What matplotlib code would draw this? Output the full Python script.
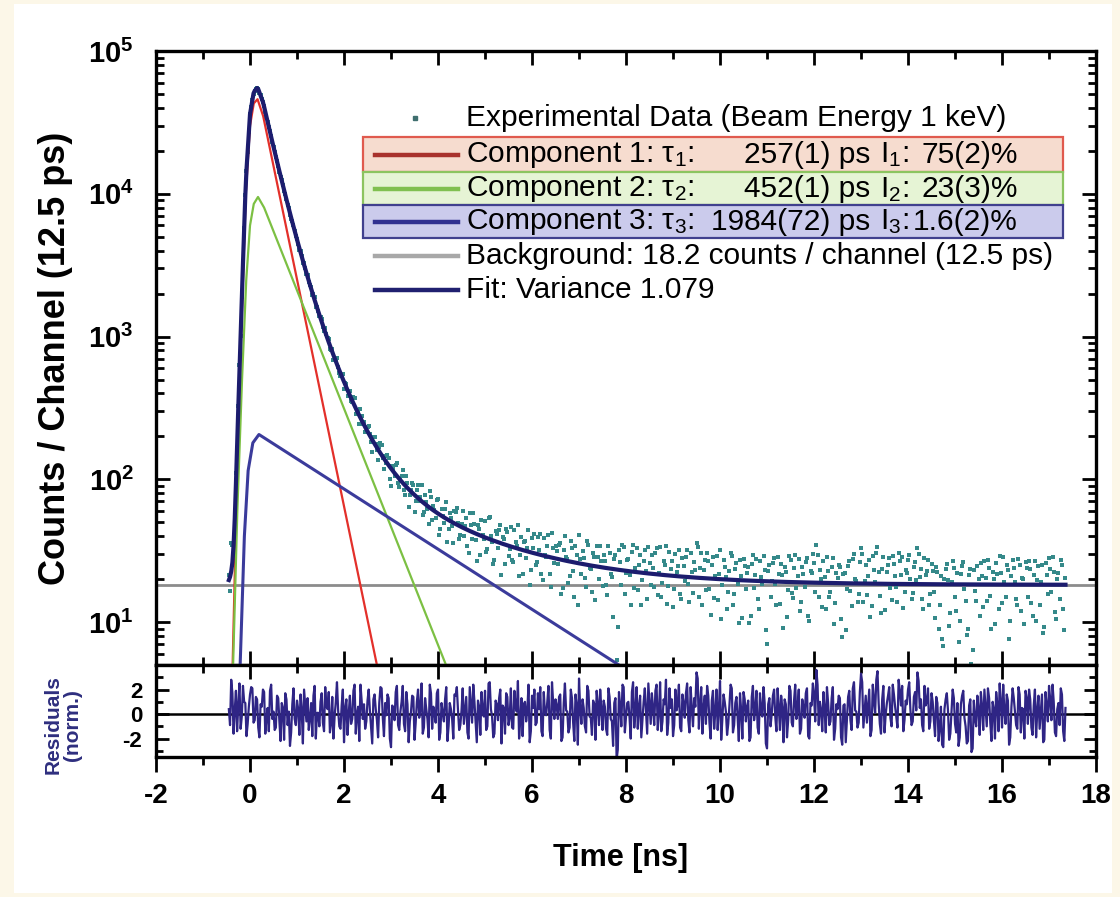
import numpy as np
import matplotlib
matplotlib.use("Agg")
import matplotlib.pyplot as plt
from matplotlib.patches import Rectangle
from matplotlib.lines import Line2D
from matplotlib.ticker import MultipleLocator, FixedLocator, LogLocator, FuncFormatter, NullFormatter

plt.rcParams["font.family"] = ["Liberation Sans", "DejaVu Sans"]
plt.rcParams["mathtext.fontset"] = "custom"
plt.rcParams["mathtext.rm"] = "Liberation Sans"
plt.rcParams["mathtext.it"] = "Liberation Sans:italic"
plt.rcParams["mathtext.bf"] = "Liberation Sans:bold"
plt.rcParams["mathtext.default"] = "regular"
plt.rcParams["axes.unicode_minus"] = False

# --- data ------------------------------------------------------------------
BACKGROUND = 18.2          # counts / channel
T0, DT = -0.45, 0.025      # first channel [ns], sampling step [ns]

# lifetime components (time [ns], counts), straight on the log axis
comp1_t = [-0.55, -0.37, -0.28, -0.19, -0.09, 0.00, 0.08, 0.16, 0.28, 2.70, 4.50]
comp1_v = [0.1, 5, 90, 1000, 1.0e4, 3.0e4, 4.3e4, 4.6e4, 3.5e4, 5, 0.007]
comp2_t = [-0.50, -0.36, -0.27, -0.17, -0.08, 0.00, 0.08, 0.17, 0.30, 4.17, 8.00]
comp2_v = [0.1, 5, 60, 500, 2.5e3, 6.0e3, 8.5e3, 9.5e3, 8.0e3, 5, 0.0034]
comp3_t = [-0.35, -0.21, -0.12, -0.04, 0.06, 0.19, 7.85, 17.40]
comp3_v = [0.2, 5, 40, 115, 180, 206, 5, 0.049]

# normalised residuals; even channels start at -0.45 ns, odd ones at -0.425 ns
residuals_even = [
    0.4, 2.8, -1.6, 1.9, 0.7, -1.2, 2.3, 0.9, -0.8, 1.6, 2.1, -0.5, 1.2, -1.9, 0.6, 1.8, -0.3, -1.4, 2.4, 0.2,
    -1.1, 1.3, -2.2, 0.5, 1.7, -0.9, -2.6, 0.8, -0.4, 1.1, -1.7, 0.3, 2.0, -0.6, -1.3, 0.9, 1.5, -2.0, 0.1, 1.0,
    -0.7, 2.2, 0.4, -1.5, 1.4, -0.2, 2.6, -1.0, 0.7, -2.3, 1.2, 0.0, -0.8, 1.9, -1.6, 0.6, 2.4, -0.4, -1.2, 1.1,
    0.3, -2.4, 1.6, -0.5, 0.9, 2.1, -1.8, -0.1, 1.3, -2.7, 0.5, 1.8, -0.9, 0.2, 2.3, -1.4, 0.8, -0.6, 1.5, -2.1,
    1.0, -0.3, 2.5, -1.1, 0.4, -1.9, 1.7, 0.6, -0.7, 2.0, -1.5, 0.1, 1.2, -2.2, 0.9, -0.4, 1.6, 2.2, -1.3, 0.3,
    -0.8, 1.4, -2.0, 0.7, 2.4, -0.6, 1.1, -1.7, 0.2, 1.9, -1.0, 2.6, -0.2, -1.6, 0.8, 1.3, -2.4, 0.5, 1.7, -0.9,
    2.1, -1.2, 0.6, 2.7, -0.5, -1.8, 1.0, 0.3, -2.3, 1.5, 2.0, -0.7, 0.4, -1.4, 1.8, -0.1, 2.3, -2.0, 0.9, 1.2,
    -0.4, 1.6, -1.9, 2.5, 0.2, -1.1, 1.3, -2.2, 0.7, 2.9, -0.8, 0.5, -1.5, 1.9, -0.3, 1.1, -2.1, 0.8, 2.0, -1.3,
    0.6, -1.7, 1.4, -0.6, 0.9, -3.7, 1.8, -1.0, 2.2, -0.2, 1.0, -2.0, 2.6, 0.3, -1.2, 1.5, -0.5, 2.1, -1.6, 0.9,
    1.7, -0.9, 2.4, 0.1, -1.4, 1.2, 2.8, -0.7, 0.5, -1.8, 2.0, 0.8, -1.1, 1.6, -0.3, 2.5, -1.5, 0.4, 1.3, 3.4,
    -1.2, 2.2, 0.6, -0.8, 1.5, -2.0, 1.9, 0.2, -1.3, 2.7, -0.4, 1.0, -1.7, 0.7, 2.1, -0.9, 1.4, -2.2, 0.3, 1.8,
    -0.6, 1.1, -1.9, 2.3, 0.4, -1.1, 1.7, -0.2, 0.9, -2.8, 1.3, 0.0, 2.0, -1.4, 0.6, 1.5, -2.3, 0.8, -0.5, 1.9,
    -1.0, 2.4, 0.5, -1.6, 1.2, -0.3, 2.1, -2.0, 0.7, 1.6, 3.6, -0.9, 0.3, 1.8, -1.5, 0.9, -0.6, 2.2, -1.2, 0.4,
    1.3, -2.5, 0.8, -0.4, 1.9, -1.3, 2.6, 0.2, -0.7, 3.3, -1.1, 1.5, 0.6, -1.8, 2.4, 0.1, 3.5, -0.8, 1.2, -1.5,
    0.9, 2.2, -1.0, 1.6, -0.2, 2.8, 0.7, -1.4, 1.1, 2.0, 0.4, -0.6, 1.8, 3.4, 0.5, -0.9, 2.3, 1.0, -1.2, 1.7,
    -0.5, 1.4, -2.2, 0.6, -2.7, 1.2, 0.3, -1.6, 2.0, -0.8, 0.9, -1.9, 1.5, -0.3, -2.4, 0.7, -3.1, 1.1, -1.0, 0.4,
    1.8, -1.3, 0.5, 2.1, -0.7, 1.0, -2.0, 0.8, 2.5, -1.1, 0.2, 1.6, -2.5, 0.6, 1.3, -0.9, 2.2, -1.5, 0.4, 1.9,
    -0.8, 1.2, -1.7, 2.0, 0.3, -1.2, 1.6, -2.1, 0.7, 2.3, -0.5, 1.0, -1.8, 0.9, 2.1, -1.4, 0.5,
]
residuals_odd = [
    -0.9, 1.7, 0.3, -1.4, 2.5, -0.2, 1.0, -1.8, 0.6, 2.2, -0.7, 1.4, -1.1, 0.8, 2.0, -1.6, 0.5, 1.9, -0.4, -1.3,
    1.5, -0.6, 0.9, -2.1, 1.2, 0.2, -1.5, 2.1, -0.9, 0.4, 1.6, -2.4, 0.7, 1.3, -0.3, -1.8, 2.3, 0.1, -1.0, 1.7,
    -1.4, 0.6, 1.8, -0.8, -2.0, 1.0, 0.3, -1.2, 2.0, 0.5, -1.7, 1.5, -0.4, 2.4, 0.0, -2.2, 1.1, 0.8, -0.6, 2.0,
    -1.0, 1.2, 0.4, -1.9, 2.2, -0.3, 0.9, 1.6, -2.0, 0.7, -0.5, 2.3, -1.3, 1.0, -0.8, 1.8, -2.3, 0.2, 1.4, -0.7,
    2.0, 0.5, -1.6, 1.3, -0.4, 2.4, -1.2, 0.1, 1.7, -2.1, 0.9, -0.6, 2.2, -1.0, 0.4, -2.0, 1.5, 0.3, -0.9, 2.1,
    0.3, -1.5, 2.2, -0.7, 1.0, -2.3, 0.6, 1.8, -0.2, -1.3, 2.5, 0.4, -1.9, 1.1, -0.5, 2.0, 0.7, -1.6, 1.4, -0.3,
    -1.1, 1.9, 0.2, -2.0, 1.3, 0.8, -0.6, 2.4, -1.4, 0.5, -0.9, 1.7, 2.2, -1.8, 0.1, 1.0, -1.3, 2.6, -0.4, 0.7,
    1.4, -2.2, 0.9, 0.3, -1.5, 2.0, -0.7, 1.6, -2.5, 0.4, 1.2, -1.0, 2.3, -0.2, -1.7, 0.8, 1.9, -0.9, 0.5, 1.1,
    -1.2, 2.1, -0.4, -2.6, 1.3, -2.9, 0.7, 2.4, -1.5, 0.9, -0.3, 1.8, -1.1, 2.2, 0.6, -1.9, 1.0, 0.2, 2.5, -0.8,
    0.5, 1.9, -1.3, 2.6, -0.6, 0.8, -1.7, 2.1, 1.2, -0.9, 0.3, 2.4, -1.4, 0.9, 1.7, -0.5, 2.2, -1.0, 0.6, 2.9,
    0.8, -1.6, 1.5, 2.3, -0.7, 1.1, -1.2, 2.0, 0.4, -2.1, 1.6, 0.2, -0.8, 2.4, -1.5, 0.9, -0.3, 1.7, -2.0, 1.2,
    0.6, -2.2, 1.4, -0.5, 1.9, -1.6, 0.3, 2.2, -2.4, 0.8, -1.0, 1.5, -0.2, 2.1, -1.3, 0.5, 1.2, -1.9, 2.3, -0.7,
    1.1, -0.4, 2.0, -1.2, 0.6, 1.7, -1.8, 0.9, 2.5, -0.6, 2.4, 1.0, -1.4, 0.4, 2.2, -0.9, 1.3, -2.1, 0.8, 1.5,
    -1.9, 0.7, -2.3, 1.4, -0.5, 2.1, 0.3, -1.1, 1.8, 2.6, 0.2, -0.7, 2.0, -1.3, 1.1, 2.8, 0.9, -1.6, 2.3, 0.0,
    1.5, -0.3, 2.4, 0.6, -1.1, 1.9, 2.3, -0.5, 0.8, 2.6, -0.9, 1.4, 0.3, 2.7, 1.2, -1.4, 0.7, 2.1, -0.6, 1.0,
    -1.8, 0.9, -1.2, -2.5, 0.4, 1.7, -2.1, 0.2, 1.3, -1.5, -2.6, 0.8, 1.9, -1.0, -2.2, 1.2, -2.8, -0.4, 1.5, -1.7,
    0.6, 2.0, -1.0, 1.3, -2.2, 0.4, 1.8, -1.4, 0.9, 2.4, -0.8, 1.1, -1.9, 2.1, 0.2, -1.2, 1.6, 0.5, -2.0, 1.3,
    2.0, -1.1, 0.7, -1.9, 1.5, 0.2, -2.3, 1.8, -0.6, 1.2, 2.4, -1.5, 0.4, -0.9, 1.6, -2.2,
]

x_ticks = [-2, 0, 2, 4, 6, 8, 10, 12, 14, 16, 18]

# --- derived series ----------------------------------------------------------
def log_interp(x, xp, fp):
    return 10 ** np.interp(x, xp, np.log10(fp))

res = np.empty(len(residuals_even) + len(residuals_odd))
res[0::2] = residuals_even
res[1::2] = residuals_odd
t = T0 + DT * np.arange(len(res))
fit = (log_interp(t, comp1_t, comp1_v) + log_interp(t, comp2_t, comp2_v)
       + log_interp(t, comp3_t, comp3_v) + BACKGROUND)
counts = fit + res * np.sqrt(fit)

# --- figure ------------------------------------------------------------------
fig = plt.figure(figsize=(11.2, 8.97), dpi=100, facecolor="#fcf7e8")
fig.add_artist(Rectangle((14 / 1120, 0.005), 1098 / 1120, 0.99, transform=fig.transFigure,
                         facecolor="white", edgecolor="none", zorder=-10))

ax = fig.add_axes([0.1393, 0.2586, 0.8393, 0.6845])
axr = fig.add_axes([0.1393, 0.1561, 0.8393, 0.1025], sharex=ax)

C_FIT = "#1c1c6e"
ax.axhline(BACKGROUND, color="#8c8c8c", lw=2, zorder=1)
ax.plot(t, counts, "s", ms=3.0, color="#35898a", mew=0, zorder=2)
ax.plot(comp1_t, comp1_v, color="#e3302a", lw=1.6, zorder=3)
ax.plot(comp2_t, comp2_v, color="#7cc043", lw=1.6, zorder=3)
ax.plot(comp3_t, comp3_v, color="#3b3b9b", lw=2.2, zorder=3)
ax.plot(t, fit, color=C_FIT, lw=3, zorder=4)

ax.set_yscale("log")
ax.set_ylim(5, 1e5)
ax.set_xlim(-2, 18)
ax.yaxis.set_major_locator(LogLocator(base=10))
ax.yaxis.set_minor_locator(LogLocator(base=10, subs=np.arange(2, 10)))
ax.yaxis.set_minor_formatter(NullFormatter())
ax.yaxis.set_major_formatter(FuncFormatter(lambda v, p: r"$\mathbf{10^{%d}}$" % round(np.log10(v))))
ax.xaxis.set_major_locator(FixedLocator(x_ticks))
ax.xaxis.set_minor_locator(MultipleLocator(1))
ax.tick_params(axis="both", which="both", direction="in", top=True, right=True, width=2)
ax.tick_params(axis="both", which="major", length=10)
ax.tick_params(axis="both", which="minor", length=6)
ax.tick_params(axis="x", labelbottom=False)
ax.tick_params(axis="y", labelsize=21, pad=16)

# residual panel
axr.axhline(0, color="black", lw=1.8, zorder=1)
axr.plot(t, res, color="#2f2585", lw=1.6, zorder=2)
axr.set_ylim(-3.5, 4)
axr.yaxis.set_major_locator(FixedLocator([-2, 0, 2]))
axr.yaxis.set_minor_locator(FixedLocator([-3, -1, 1, 3]))
axr.tick_params(axis="y", which="both", direction="in", right=True, width=2)
axr.tick_params(axis="y", which="major", length=9, labelsize=16, pad=10)
axr.tick_params(axis="y", which="minor", length=5)
axr.tick_params(axis="x", which="both", direction="out", width=2, labelsize=20, pad=8)
axr.tick_params(axis="x", which="major", length=11)
axr.tick_params(axis="x", which="minor", length=6)
for lab in axr.get_xticklabels() + axr.get_yticklabels():
    lab.set_fontweight("bold")
# inward ticks on the top edge of the residual panel
axt = axr.secondary_xaxis("top")
axt.xaxis.set_major_locator(FixedLocator(x_ticks))
axt.xaxis.set_minor_locator(MultipleLocator(1))
axt.tick_params(which="both", direction="in", width=2, labeltop=False)
axt.tick_params(which="major", length=10)
axt.tick_params(which="minor", length=6)
axt.spines["top"].set_visible(False)

for a in (ax, axr):
    for s in a.spines.values():
        s.set_linewidth(2.4)

fig.text(0.050, 0.601, "Counts / Channel (12.5 ps)", rotation=90, ha="center", va="center",
         fontsize=26, fontweight="bold")
fig.text(0.056, 0.192, "Residuals\n(norm.)", rotation=90, ha="center", va="center",
         fontsize=15, fontweight="bold", color="#2e2e7e", linespacing=1.0)
fig.text(0.554, 0.043, "Time [ns]", ha="center", va="center", fontsize=22, fontweight="bold")

# --- legend (drawn in axes coordinates) -------------------------------------
tr = ax.transAxes
LX0, LX1 = 0.220, 0.965
HX0, HX1, TX = 0.233, 0.321, 0.330
rows = [0.891, 0.831, 0.775, 0.722, 0.666, 0.611]
boxes = [(0.803, 0.860, "#f6dccf", "#e05a4e"),
         (0.749, 0.803, "#e6f4d5", "#8cc460"),
         (0.695, 0.749, "#cbcbec", "#40408e")]
for y0, y1, fc, ec in boxes:
    ax.add_patch(Rectangle((LX0, y0), LX1 - LX0, y1 - y0, transform=tr, facecolor=fc,
                           edgecolor=ec, lw=1.6, zorder=6))

FS = 21.5
ax.add_line(Line2D([0.276], [rows[0]], transform=tr, marker="s", ms=3, color="#3f6f6f", zorder=7))
ax.text(TX, rows[0], "Experimental Data (Beam Energy 1 keV)", transform=tr, fontsize=FS,
        va="center", zorder=7)
handles = ["#a8322d", "#80c050", "#303090", "#a8a8a8", "#202070"]
for y, col in zip(rows[1:], handles):
    ax.add_line(Line2D([HX0, HX1], [y, y], transform=tr, color=col, lw=3.2, zorder=7))

comp_tau = ["257(1) ps", "452(1) ps", "1984(72) ps"]
comp_int = ["75(2)%", "23(3)%", "1.6(2)%"]
for i in range(3):
    y = rows[i + 1]
    ax.text(TX, y, r"Component %d: $\tau_{%d}$:" % (i + 1, i + 1), transform=tr,
            fontsize=FS, va="center", zorder=7)
    ax.text(0.760, y, comp_tau[i], transform=tr, fontsize=FS, va="center", ha="right", zorder=7)
    ax.text(0.770, y, r"$I_{%d}$:" % (i + 1), transform=tr, fontsize=FS, va="center", zorder=7)
    ax.text(0.917, y, comp_int[i], transform=tr, fontsize=FS, va="center", ha="right", zorder=7)
ax.text(TX, rows[4], "Background: 18.2 counts / channel (12.5 ps)", transform=tr, fontsize=FS,
        va="center", zorder=7)
ax.text(TX, rows[5], "Fit: Variance 1.079", transform=tr, fontsize=FS, va="center", zorder=7)

fig.savefig("out.png", dpi=100, facecolor=fig.get_facecolor())
